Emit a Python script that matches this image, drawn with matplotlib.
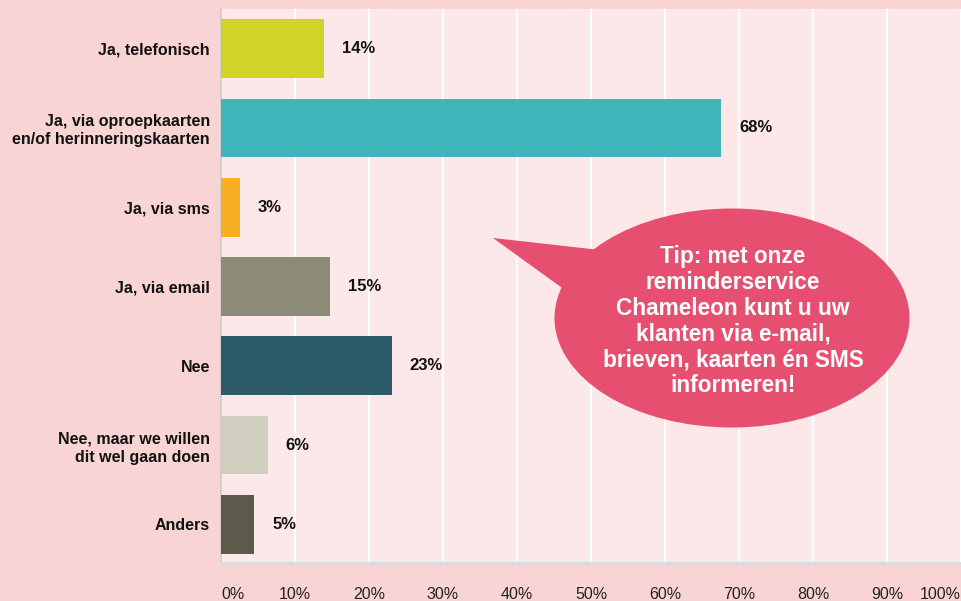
import matplotlib.pyplot as plt
from matplotlib.patches import Ellipse, Polygon

plt.rcParams['font.family'] = ['Liberation Sans', 'DejaVu Sans']

# Data
categories = ['Ja, telefonisch',
              'Ja, via oproepkaarten\nen/of herinneringskaarten',
              'Ja, via sms',
              'Ja, via email',
              'Nee',
              'Nee, maar we willen\ndit wel gaan doen',
              'Anders']
values = [13.9, 67.6, 2.6, 14.7, 23.1, 6.3, 4.5]
labels = ['14%', '68%', '3%', '15%', '23%', '6%', '5%']
colors = ['#d2d328', '#40b5bc', '#f8b022', '#8c8b78', '#2e5b6b', '#d0cfc0', '#5c5b4b']
xticks = [0, 10, 20, 30, 40, 50, 60, 70, 80, 90, 100]
tip = 'Tip: met onze\nreminderservice\nChameleon kunt u uw\nklanten via e-mail,\nbrieven, kaarten én SMS\ninformeren!'

outer_bg = '#f9d4d5'
plot_bg = '#fce8e8'

fig = plt.figure(figsize=(9.62, 6.01), dpi=100, facecolor=outer_bg)
ax = fig.add_axes([221 / 962, 1 - 564 / 601, 741 / 962, 555 / 601])
ax.set_facecolor(plot_bg)

ypos = list(range(len(categories)))
ax.barh(ypos, values, height=0.74, color=colors, zorder=3)
for y, v, lab in zip(ypos, values, labels):
    ax.text(v + 2.4, y, lab, va='center', ha='left', fontsize=12,
            fontweight='bold', color='#111111', zorder=4)

ax.set_ylim(len(categories) - 0.5, -0.5)
ax.set_xlim(0, 100.14)
ax.set_yticks(ypos)
ax.set_yticklabels(categories, fontsize=11.5, fontweight='bold',
                   color='#111111', linespacing=1.25)
ax.set_xticks(xticks)
ax.set_xticklabels([f'{t}%' for t in xticks], fontsize=11.5, color='#222222')
tl = ax.get_xticklabels()
tl[0].set_horizontalalignment('left')
tl[-1].set_horizontalalignment('right')
ax.tick_params(axis='x', length=0, pad=16.5)
ax.tick_params(axis='y', length=0, pad=8)

ax.grid(axis='x', color='white', linewidth=1.5, zorder=1)
ax.set_axisbelow(True)
for s in ['top', 'right']:
    ax.spines[s].set_visible(False)
ax.spines['left'].set_color('#d0c8c8')
ax.spines['left'].set_linewidth(1.2)
ax.spines['bottom'].set_color('#dcdcdc')
ax.spines['bottom'].set_linewidth(3)

# speech bubble overlay in pixel space
ov = fig.add_axes([0, 0, 1, 1])
ov.set_xlim(0, 962)
ov.set_ylim(601, 0)
ov.axis('off')
ov.patch.set_alpha(0)
bubble = '#e64f6f'
ov.add_patch(Polygon([(493, 238), (600, 250), (565, 290)], closed=True,
                     facecolor=bubble, edgecolor='none'))
ov.add_patch(Ellipse((732, 318), 355, 219, facecolor=bubble, edgecolor='none'))
ov.text(733, 321, tip, ha='center', va='center', color='white', fontsize=16.3,
        fontweight='bold', linespacing=1.16)

fig.savefig('out.png', dpi=100, facecolor=outer_bg)
